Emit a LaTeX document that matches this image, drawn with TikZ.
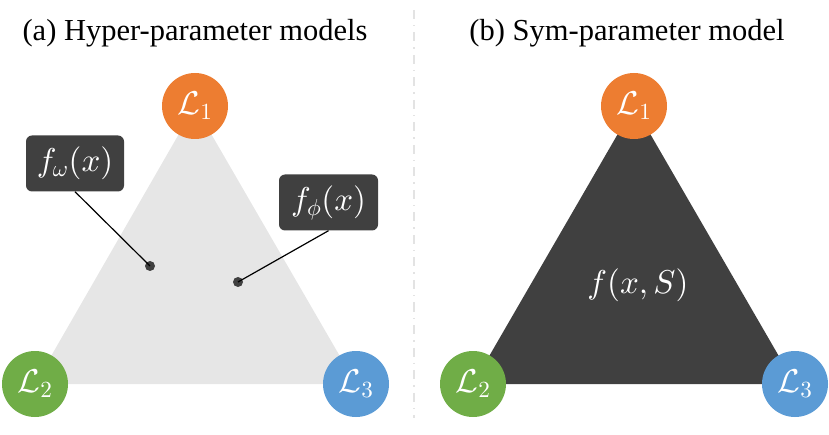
\documentclass[tikz,border=0pt]{standalone}
\usepackage{fontspec}
\setmainfont{Liberation Serif}
\DeclareFontShape{OML}{cmm}{m}{it}{<->cmmi10}{}
\DeclareFontShape{OMS}{cmsy}{m}{n}{<->cmsy10}{}
\DeclareFontShape{OT1}{cmr}{m}{n}{<->cmr10}{}
\usetikzlibrary{backgrounds}
\definecolor{darkg}{HTML}{404040}
\definecolor{lightg}{HTML}{E6E6E6}
\definecolor{orangeL}{HTML}{ED7D31}
\definecolor{greenL}{HTML}{70AD47}
\definecolor{blueL}{HTML}{5B9BD5}
\definecolor{divider}{HTML}{E3E3E3}
\begin{document}
\begin{tikzpicture}[x=1pt,y=-1pt,
  lossnode/.style={circle, minimum size=66pt, inner sep=0pt, text=white, font=\fontsize{33}{40}\selectfont},
  labelbox/.style={rounded corners=6pt, fill=darkg, text=white, inner sep=0pt, minimum height=56pt, font=\fontsize{33}{40}\selectfont},
  dotnode/.style={circle, fill=darkg, minimum size=10pt, inner sep=0pt},
  titletext/.style={anchor=base, font=\fontsize{30.5}{36}\selectfont},
  connector/.style={draw=black, line width=1.2pt}]
\useasboundingbox (0,0) rectangle (829,435);
% titles
\node[titletext] (ta) at (195,41) {(a) Hyper-parameter models};
\node[titletext] (tb) at (627,41) {(b) Sym-parameter model};
% divider
\coordinate (dtop) at (414,10);
\coordinate (dbot) at (414,418);
\draw[divider, line width=2pt, dash pattern=on 9pt off 6pt on 1.5pt off 6pt] (dtop) -- (dbot);
% left panel
\node[lossnode, fill=orangeL] (a1) at (195,106) {$\mathcal{L}_1$};
\node[lossnode, fill=greenL] (a2) at (35,384) {$\mathcal{L}_2$};
\node[lossnode, fill=blueL] (a3) at (356,384) {$\mathcal{L}_3$};
\begin{scope}[on background layer]
\fill[lightg] (a1.center) -- (a2.center) -- (a3.center) -- cycle;
\end{scope}
\node[labelbox, minimum width=98pt] (fw) at (75,163.5) {$f_\omega(x)$};
\node[labelbox, minimum width=99pt] (fp) at (328.5,202.5) {$f_\phi(x)$};
\node[dotnode] (dw) at (150,266) {};
\node[dotnode] (dp) at (238,282) {};
\draw[connector] (fw.south) -- (dw.center);
\draw[connector] (fp.south) -- (dp.center);
% right panel
\node[lossnode, fill=orangeL] (b1) at (634,106) {$\mathcal{L}_1$};
\node[lossnode, fill=greenL] (b2) at (473,384) {$\mathcal{L}_2$};
\node[lossnode, fill=blueL] (b3) at (795,384) {$\mathcal{L}_3$};
\begin{scope}[on background layer]
\fill[darkg] (b1.center) -- (b2.center) -- (b3.center) -- cycle;
\end{scope}
\node[text=white, font=\fontsize{33}{40}\selectfont] (fs) at (638,285) {$f(x,S)$};
\end{tikzpicture}
\end{document}
